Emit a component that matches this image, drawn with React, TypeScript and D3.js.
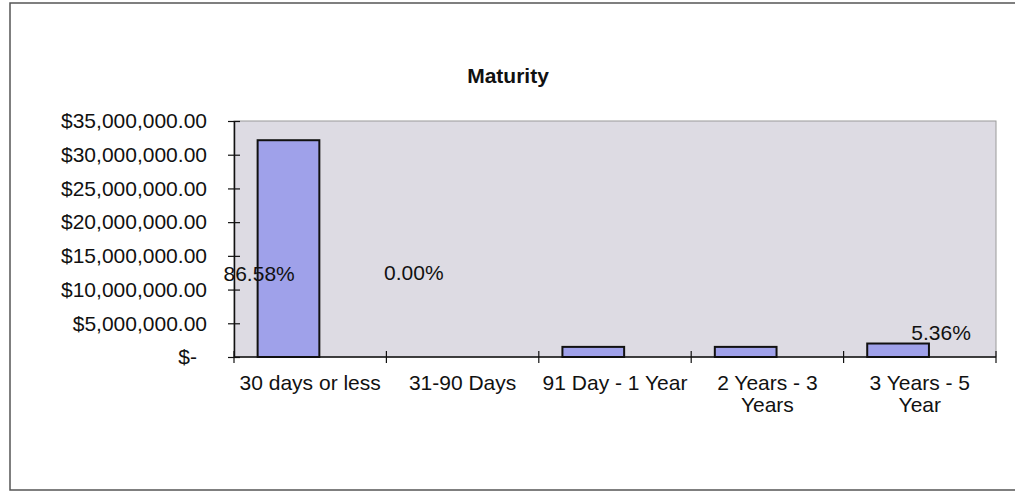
import React, { useEffect, useRef } from "react";
import * as d3 from "d3";

const categories = [
  "30 days or less",
  "31-90 Days",
  "91 Day - 1 Year",
  "2 Years - 3\nYears",
  "3 Years - 5\nYear",
];
const amounts = [32150000, 0, 1500000, 1500000, 2000000];
const yTicks = [0, 5000000, 10000000, 15000000, 20000000, 25000000, 30000000, 35000000];
const pctLabels = [
  { cat: 0, text: "86.58%" },
  { cat: 1, text: "0.00%" },
  { cat: 4, text: "5.36%" },
];

// where Excel left the data labels (fraction of band, value on the axis)
const labelSpots = [
  { fx: 0.165, v: 12400000 },
  { fx: 0.18, v: 12500000 },
  { fx: 0.64, v: 3600000 },
];

export default function App() {
  const ref = useRef<SVGGElement>(null);
  const width = 1015;
  const height = 492;
  const plot = { left: 234, right: 996, top: 121, bottom: 357 };
  const font = "'Liberation Sans', Arial, sans-serif";
  const fs = "21px";

  useEffect(() => {
    document.body.style.margin = "0";
    const g = d3.select(ref.current);
    g.selectAll("*").remove();

    const x = d3.scaleBand<number>()
      .domain(categories.map((_, i) => i))
      .range([plot.left, plot.right])
      .paddingInner(0)
      .paddingOuter(0);

    const y = d3.scaleLinear()
      .domain([0, 35000000])
      .range([plot.bottom, plot.top]);

    // outer chart frame
    g.append("path")
      .attr("d", `M${width} 3 H10 V490 H${width}`)
      .attr("fill", "none")
      .attr("stroke", "#555")
      .attr("stroke-width", 1.5);

    g.append("text")
      .text("Maturity")
      .attr("x", 508)
      .attr("y", 83)
      .attr("text-anchor", "middle")
      .attr("font-family", font)
      .attr("font-weight", "bold")
      .attr("font-size", fs)
      .attr("fill", "#111");

    // plot area
    g.append("rect")
      .attr("x", plot.left)
      .attr("y", plot.top)
      .attr("width", plot.right - plot.left)
      .attr("height", plot.bottom - plot.top)
      .attr("fill", "#dddbe3")
      .attr("stroke", "#9a9a9a")
      .attr("stroke-width", 1);

    const bw = x.bandwidth();
    g.selectAll(".bar")
      .data(amounts)
      .enter()
      .append("rect")
      .attr("class", "bar")
      .attr("x", (d, i) => (x(i) as number) + bw * 0.155)
      .attr("width", bw * 0.405)
      .attr("y", d => y(d))
      .attr("height", d => plot.bottom - y(d))
      .attr("fill", "#9fa1ea")
      .attr("stroke", d => (d > 0 ? "#111" : "none"))
      .attr("stroke-width", 2);

    // y axis
    const yAxis = g.append("g").attr("transform", `translate(${plot.left},0)`);
    yAxis.call(
      d3.axisLeft(y)
        .tickValues(yTicks)
        .tickSizeInner(6)
        .tickSizeOuter(0)
        .tickFormat(() => "")
    );
    yAxis.select(".domain").attr("stroke", "#111").attr("stroke-width", 1.5);
    yAxis.selectAll(".tick line")
      .attr("x1", 6)
      .attr("x2", -6)
      .attr("stroke", "#111")
      .attr("stroke-width", 1.2);

    g.selectAll(".ylab")
      .data(yTicks)
      .enter()
      .append("text")
      .attr("class", "ylab")
      .text(d => (d === 0 ? "$-" : "$" + d3.format(",.2f")(d)))
      .attr("x", d => (d === 0 ? 197 : 207))
      .attr("y", d => y(d))
      .attr("dy", "0.35em")
      .attr("text-anchor", "end")
      .attr("font-family", font)
      .attr("font-size", fs)
      .attr("fill", "#111");

    // x axis
    const xAxis = g.append("g").attr("transform", `translate(0,${plot.bottom})`);
    const edges = categories.map((_, i) => x(i) as number).concat([plot.right]);
    xAxis.append("line")
      .attr("x1", plot.left)
      .attr("x2", plot.right)
      .attr("stroke", "#111")
      .attr("stroke-width", 1.5);
    xAxis.selectAll(".xtick")
      .data(edges)
      .enter()
      .append("line")
      .attr("class", "xtick")
      .attr("x1", d => d)
      .attr("x2", d => d)
      .attr("y1", -6)
      .attr("y2", 6)
      .attr("stroke", "#111")
      .attr("stroke-width", 1.2);

    const xl = g.selectAll(".xlab")
      .data(categories)
      .enter()
      .append("text")
      .attr("class", "xlab")
      .attr("text-anchor", "middle")
      .attr("font-family", font)
      .attr("font-size", fs)
      .attr("fill", "#111");
    xl.each(function (d, i) {
      const t = d3.select(this);
      d.split("\n").forEach((line, k) => {
        t.append("tspan")
          .text(line)
          .attr("x", (x(i) as number) + bw / 2)
          .attr("y", 390 + k * 22);
      });
    });

    // percentage labels
    g.selectAll(".pct")
      .data(pctLabels)
      .enter()
      .append("text")
      .attr("class", "pct")
      .text(d => d.text)
      .attr("x", (d, i) => (x(d.cat) as number) + bw * labelSpots[i].fx)
      .attr("y", (d, i) => y(labelSpots[i].v))
      .attr("dy", "0.35em")
      .attr("text-anchor", "middle")
      .attr("font-family", font)
      .attr("font-size", fs)
      .attr("fill", "#111");
  }, []);

  return (
    <svg width={width} height={height} style={{ display: "block", background: "#fff" }}>
      <g ref={ref} />
    </svg>
  );
}
